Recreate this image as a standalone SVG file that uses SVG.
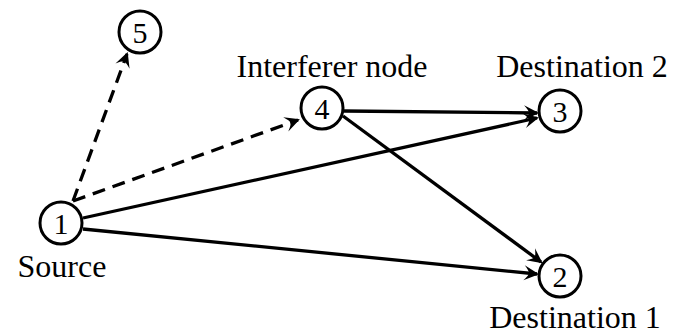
<svg xmlns="http://www.w3.org/2000/svg" width="688" height="334" viewBox="0 0 688 334">
  <style>
    .node circle { fill: #fff; stroke: #000; stroke-width: 3; }
    .node text { font-family: "Liberation Serif", "DejaVu Serif", "Noto Serif", serif; fill: #000; text-anchor: middle; }
    .num { font-size: 30px; }
    .label { font-size: 32px; }
    .edge { fill: none; stroke: #000; stroke-width: 3.3; marker-end: url(#arrow); }
    .dashed { stroke-dasharray: 13 8; }
  </style>
  <defs>
    <marker id="arrow" markerUnits="userSpaceOnUse" viewBox="-16 -9 20 18" markerWidth="20" markerHeight="18" refX="0" refY="0" orient="auto">
      <path d="M2,0 L-13,-7.5 Q-8,-2 -8,0 Q-8,2 -13,7.5 Z" fill="#000"/>
    </marker>
  </defs>

  <rect width="688" height="334" fill="#fff"/>

  <g id="edges">
    <path class="edge dashed" d="M73,201 L127,54"/>
    <path class="edge dashed" d="M73,201 L298,120"/>
    <path class="edge" d="M83,218 L537,118"/>
    <path class="edge" d="M83,229 L537,274"/>
    <path class="edge" d="M344,111 L537,113"/>
    <path class="edge" d="M343,116 L541,262"/>
  </g>

  <g id="node1" class="node">
    <circle cx="61" cy="223" r="21"/>
    <text class="num" x="61" y="234">1</text>
    <text class="label" x="62" y="277" font-size="33">Source</text>
  </g>
  <g id="node2" class="node">
    <circle cx="560" cy="276" r="21"/>
    <text class="num" x="560" y="287">2</text>
    <text class="label" x="575" y="328">Destination 1</text>
  </g>
  <g id="node3" class="node">
    <circle cx="560" cy="111" r="21"/>
    <text class="num" x="560" y="122">3</text>
    <text class="label" x="582" y="77">Destination 2</text>
  </g>
  <g id="node4" class="node">
    <circle cx="322" cy="108" r="21"/>
    <text class="num" x="322" y="119">4</text>
    <text class="label" x="332" y="77">Interferer node</text>
  </g>
  <g id="node5" class="node">
    <circle cx="140" cy="32" r="21"/>
    <text class="num" x="140" y="43">5</text>
  </g>
</svg>
